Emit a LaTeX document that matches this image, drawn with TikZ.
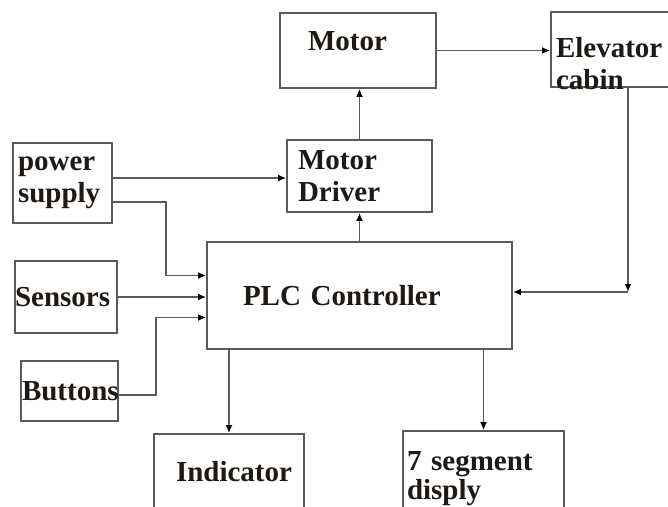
\documentclass[tikz,border=0pt]{standalone}
\usepackage{fontspec}
\setmainfont{Liberation Serif}
\usepackage{tikz}
\usetikzlibrary{calc, positioning, arrows.meta}
\definecolor{Lineagris}{RGB}{90,90,90}
\definecolor{Textocolor}{RGB}{30,25,20}

\begin{document}
\begin{tikzpicture}[
  x=1pt, y=-1pt,
  font=\fontsize{29}{32}\selectfont\bfseries,
  caja/.style={draw=Lineagris, line width=1.8pt, inner sep=0pt,
               align=left, text=Textocolor},
  arr/.style={-{Latex[length=8pt,width=7pt,color=black]}, draw=Lineagris, line width=1.8pt}
]
\useasboundingbox (0,0) rectangle (668,506);

%% ——— Fila 1: Motor y cabina ———
\node[caja, minimum width=156, minimum height=75, text width=100,
      text height=20pt, text depth=21pt] (motor) at (358,50.5) {Motor};
\node[caja, minimum width=129, minimum height=75, text width=119,
      text height=20pt, text depth=5pt] (cabin) at (615.5,49.5) {Elevator\\cabin};

%% ——— Fila 2: Fuente y driver ———
\node[caja, minimum width=145, minimum height=72, text width=123] (driver) at (359.5,176) {Motor\\Driver};
\node[caja, minimum width=99, minimum height=80, text width=89] (power) at (62.5,183) {power\\supply};

%% ——— Fila 3: PLC y entradas ———
\node[caja, minimum width=305, minimum height=107, text width=233] (plc) at (359.5,295.5) {PLC Controller};
\node[caja, minimum width=102, minimum height=72, text width=102] (sensors) at (66,297) {Sensors};
\node[caja, minimum width=97, minimum height=60, text width=95] (buttons) at (69.5,391) {Buttons};

%% ——— Fila 4: Salidas ———
\node[caja, minimum width=150, minimum height=76, align=center] (indicator) at (229,472) {\hspace*{10pt}Indicator};
\node[caja, minimum width=161, minimum height=96, text width=153] (seg) at (483.5,479) {7 segment\\[-3pt]disply};

%% Motor → cabina, driver → motor
\draw[arr] (motor.east) -- (motor.east -| cabin.west);
\draw[arr] (driver.north) -- (driver.north |- motor.south);
\draw[arr] (plc.north) -- (plc.north |- driver.south);

%% Entradas → PLC
\draw[arr] ($(power.east)+(0,-5)$) -- ($(power.east -| driver.west)+(0,-5)$);
\draw[arr] ($(power.east)+(0,19)$) -| ($(plc.west)+(-40,-20)$) -- ($(plc.west)+(0,-20)$);
\draw[arr] (sensors.east) -- (sensors.east -| plc.west);
\draw[arr] ($(buttons.east)+(0,4)$) -| ($(plc.west)+(-50,22)$) -- ($(plc.west)+(0,22)$);

%% PLC → salidas
\draw[arr] (indicator.north |- plc.south) -- (indicator.north);
\draw[arr] (seg.north |- plc.south) -- (seg.north);

%% Cabina → PLC
\coordinate (turn) at (628,292);
\draw[arr] (cabin.south -| turn) -- (turn);
\draw[arr] (turn) -- (turn -| plc.east);

\end{tikzpicture}
\end{document}
